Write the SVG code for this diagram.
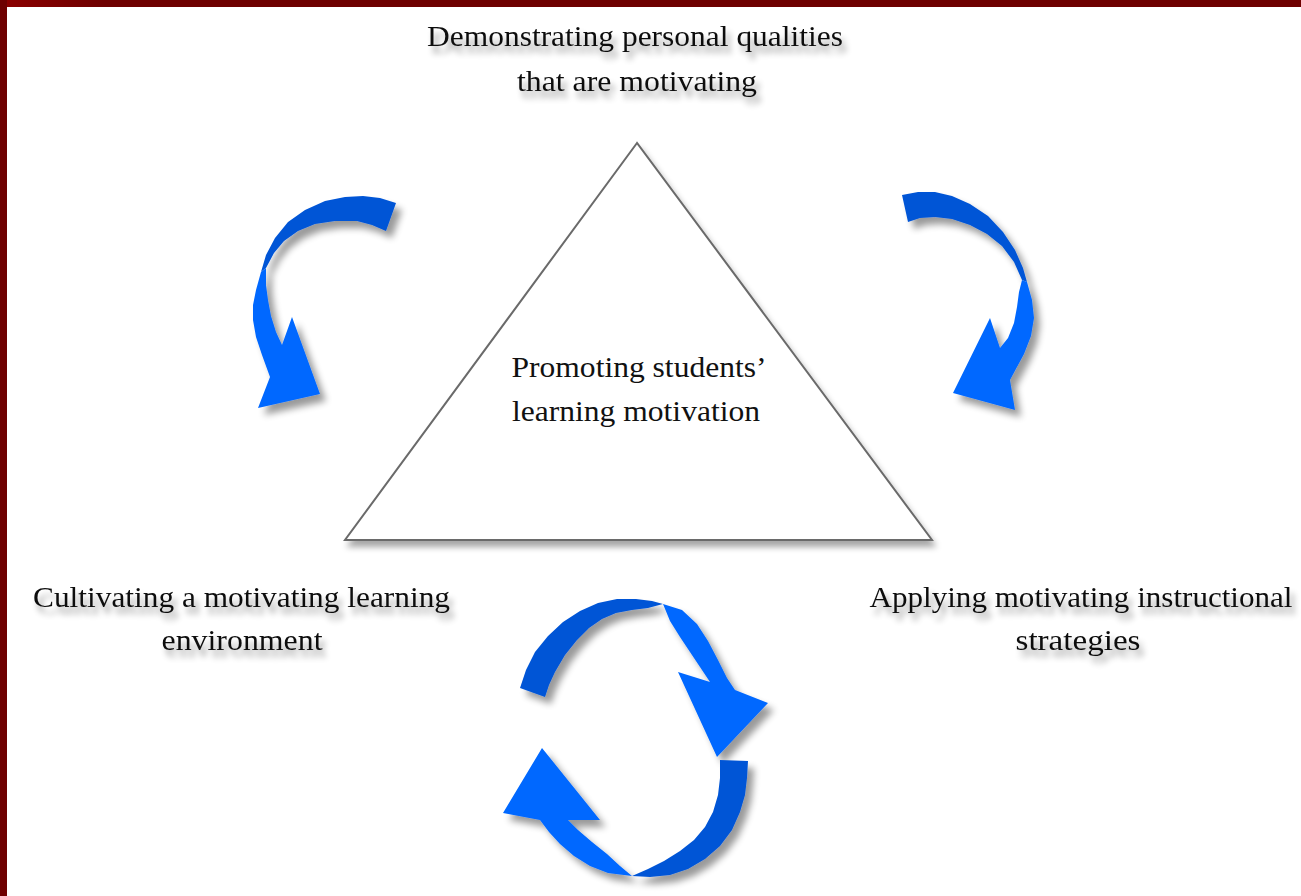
<svg xmlns="http://www.w3.org/2000/svg" width="1301" height="896" viewBox="0 0 1301 896">
<defs>
<style>
.lbl{font-family:"Liberation Serif","Times New Roman",serif;font-size:29px;fill:#111;text-anchor:middle}
.dk{fill:#0055d6}
.lt{fill:#0068ff}
</style>
<linearGradient id="topbar" x1="0" y1="0" x2="1" y2="0">
<stop offset="0" stop-color="#8c0000"/>
<stop offset="0.08" stop-color="#6e0000"/>
<stop offset="1" stop-color="#6e0000"/>
</linearGradient>
<filter id="shArrow" x="-30%" y="-30%" width="170%" height="170%">
<feGaussianBlur in="SourceAlpha" stdDeviation="3.5"/>
<feOffset dx="6" dy="7"/>
<feComponentTransfer><feFuncA type="linear" slope="0.4"/></feComponentTransfer>
<feMerge><feMergeNode/><feMergeNode in="SourceGraphic"/></feMerge>
</filter>
<filter id="shTri" x="-10%" y="-10%" width="130%" height="130%">
<feGaussianBlur in="SourceAlpha" stdDeviation="3"/>
<feOffset dx="3" dy="6"/>
<feComponentTransfer><feFuncA type="linear" slope="0.35"/></feComponentTransfer>
<feMerge><feMergeNode/><feMergeNode in="SourceGraphic"/></feMerge>
</filter>
<filter id="shText" x="-10%" y="-50%" width="130%" height="220%">
<feGaussianBlur in="SourceAlpha" stdDeviation="3"/>
<feOffset dx="4" dy="7"/>
<feComponentTransfer><feFuncA type="linear" slope="0.4"/></feComponentTransfer>
<feMerge><feMergeNode/><feMergeNode in="SourceGraphic"/></feMerge>
</filter>
</defs>
<rect x="0" y="0" width="1301" height="896" fill="#ffffff"/>
<rect x="0" y="0" width="1301" height="7" fill="url(#topbar)"/>
<rect x="0" y="0" width="7" height="896" fill="#6e0000"/>

<g id="node-center">
<polygon points="637,143 345,540 932,540" fill="#ffffff" stroke="#6a6a6a" stroke-width="2" filter="url(#shTri)"/>
<text class="lbl" x="639" y="377" textLength="255" lengthAdjust="spacingAndGlyphs">Promoting students’</text>
<text class="lbl" x="636" y="421" textLength="248" lengthAdjust="spacingAndGlyphs">learning motivation</text>
</g>

<g id="node-top" filter="url(#shText)">
<text class="lbl" x="635" y="46" textLength="416" lengthAdjust="spacingAndGlyphs">Demonstrating personal qualities</text>
<text class="lbl" x="637" y="91" textLength="240" lengthAdjust="spacingAndGlyphs">that are motivating</text>
</g>

<g id="node-left" filter="url(#shText)">
<text class="lbl" x="241.5" y="607" textLength="417" lengthAdjust="spacingAndGlyphs">Cultivating a motivating learning</text>
<text class="lbl" x="242" y="650" textLength="161" lengthAdjust="spacingAndGlyphs">environment</text>
</g>

<g id="node-right" filter="url(#shText)">
<text class="lbl" x="1081" y="607" textLength="423" lengthAdjust="spacingAndGlyphs">Applying motivating instructional</text>
<text class="lbl" x="1078" y="650" textLength="125" lengthAdjust="spacingAndGlyphs">strategies</text>
</g>

<g id="connectors">
<g id="arrow-left" filter="url(#shArrow)">
<path class="dk" d="M396,203 L380,198 L363,196 L345,197 L325,201 L305,210 L288,222 L275,238 L266,255 L261,272 L266,268 L274,253 L284,241 L298,231 L315,224 L335,221 L357,221 L372,225 L386,231 Z"/>
<path class="lt" d="M261,272 L256,290 L253,305 L253,320 L256,337 L262,355 L270,377 L258,408 L320,394 L292,317 L282,345 L276,332 L271,316 L268,300 L266,285 L266,268 Z"/>
</g>
<g id="arrow-right" filter="url(#shArrow)">
<path class="dk" d="M902,195 L918,192 L935,192 L952,196 L970,204 L988,216 L1003,232 L1015,250 L1023,268 L1027,282 L1022,280 L1014,262 L1002,246 L987,234 L970,225 L952,219 L935,217 L920,218 L908,222 Z"/>
<path class="lt" d="M1027,282 L1032,300 L1034,318 L1031,336 L1024,354 L1010,380 L1015,410 L953,393 L990,318 L1000,348 L1008,338 L1014,323 L1017,307 L1019,292 L1022,280 Z"/>
</g>
<g id="arrow-cycle-top" filter="url(#shArrow)">
<path class="dk" d="M520,688 L526,670 L535,652 L548,636 L563,622 L580,611 L598,603 L617,599 L636,599 L652,601 L663,604 L648,608 L632,610 L616,613 L602,619 L589,628 L577,640 L565,655 L555,672 L549,685 L545,697 Z"/>
<path class="lt" d="M663,604 L682,610 L697,624 L708,641 L718,660 L727,678 L735,690 L768,703 L717,757 L678,672 L710,682 L700,667 L690,652 L680,637 L670,621 L663,604 Z"/>
</g>
<g id="arrow-cycle-bottom" filter="url(#shArrow)">
<path class="dk" d="M748,761 L747,778 L745,795 L740,812 L732,830 L720,846 L705,859 L688,869 L670,875 L650,877 L632,876 L648,869 L664,861 L680,851 L694,840 L705,827 L713,812 L718,795 L720,778 L720,760 Z"/>
<path class="lt" d="M632,876 L608,873 L590,866 L574,856 L560,844 L549,832 L540,820 L503,813 L542,748 L600,820 L568,820 L578,830 L592,842 L607,854 L620,866 L632,876 Z"/>
</g>
</g>
</svg>
